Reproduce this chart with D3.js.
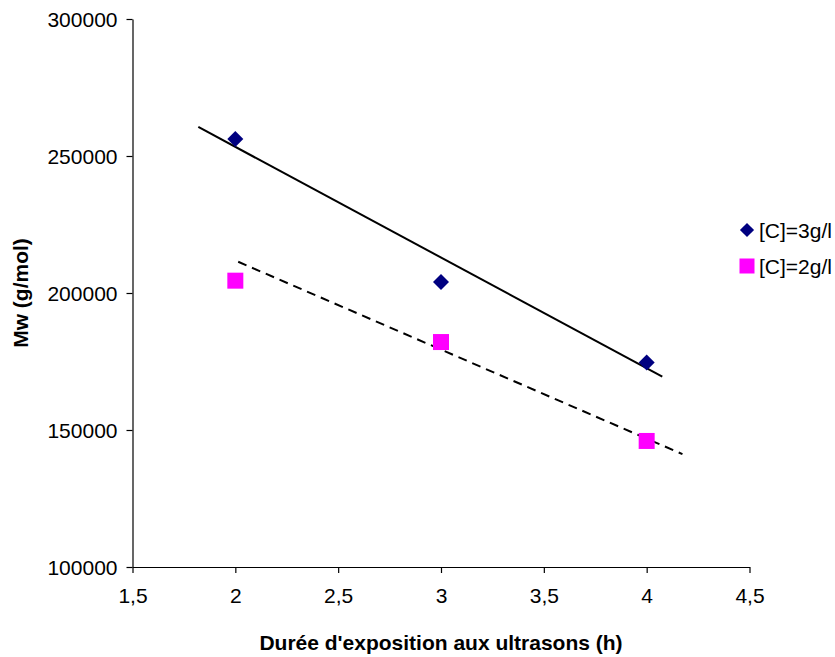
<!DOCTYPE html>
<html>
<head>
<meta charset="utf-8">
<script src="https://cdn.jsdelivr.net/npm/d3@7"></script>
<style>
  html, body { margin: 0; padding: 0; background: #fff; }
  svg { display: block; }
  text { font-family: "Liberation Sans", Arial, sans-serif; }
</style>
</head>
<body>
<svg id="chart" width="835" height="657"></svg>
<script>
// ---- data ----
const durations = [2, 3, 4];
const mw3 = [256200, 204000, 174600];
const mw2 = [204500, 182100, 146000];
const seriesNames = ["[C]=3g/l", "[C]=2g/l"];
const xTicks = [1.5, 2, 2.5, 3, 3.5, 4, 4.5];
const yTicks = [100000, 150000, 200000, 250000, 300000];
// trendline end points [x, y]
const trend3 = [[1.82, 260600], [4.076, 169500]];
const trend2 = [[2.014, 211400], [4.174, 141200]];

const svg = d3.select("#chart");
const x = d3.scaleLinear().domain([1.5, 4.5]).range([132.5, 749.5]);
const y = d3.scaleLinear().domain([100000, 300000]).range([567, 19]);

const fmtX = d => String(d).replace(".", ",");

// axes
const gx = svg.append("g").attr("transform", "translate(0,567)")
  .call(d3.axisBottom(x).tickValues(xTicks).tickFormat(fmtX).tickSize(6).tickSizeOuter(0).tickPadding(15));
const gy = svg.append("g").attr("transform", "translate(132.5,0)")
  .call(d3.axisLeft(y).tickValues(yTicks).tickFormat(d3.format("d")).tickSize(6).tickSizeOuter(0).tickPadding(9));
[gx, gy].forEach(g => {
  g.select(".domain").attr("stroke", "#000").attr("stroke-width", 1.2);
  g.selectAll(".tick line").attr("stroke", "#000").attr("stroke-width", 1.2);
  g.selectAll(".tick text").attr("fill", "#000").style("font-size", "21px")
    .style("font-family", "'Liberation Sans', Arial, sans-serif");
});
gy.selectAll(".tick text").attr("dy", "0.36em");

// trendlines
const line = d3.line().x(d => x(d[0])).y(d => y(d[1]));
svg.append("path").datum(trend3).attr("d", line)
  .attr("fill", "none").attr("stroke", "#000").attr("stroke-width", 2);
svg.append("path").datum(trend2).attr("d", line)
  .attr("fill", "none").attr("stroke", "#000").attr("stroke-width", 2)
  .attr("stroke-dasharray", "9,6");

// markers
const diamond = d3.symbol().type(d3.symbolSquare).size(128);
const square = d3.symbol().type(d3.symbolSquare).size(256);
svg.append("g").selectAll("path").data(durations.map((d, i) => [d, mw3[i]]))
  .join("path").attr("d", diamond)
  .attr("transform", d => `translate(${x(d[0])},${y(d[1])}) rotate(45)`)
  .attr("fill", "#000080");
svg.append("g").selectAll("path").data(durations.map((d, i) => [d, mw2[i]]))
  .join("path").attr("d", square)
  .attr("transform", d => `translate(${x(d[0])},${y(d[1])})`)
  .attr("fill", "#FF00FF");

// axis titles
svg.append("text").attr("x", 441).attr("y", 650).attr("text-anchor", "middle")
  .style("font-size", "21px").style("font-weight", "bold").text("Durée d'exposition aux ultrasons (h)");
svg.append("text").attr("transform", "translate(28,293) rotate(-90)").attr("text-anchor", "middle")
  .style("font-size", "21px").style("font-weight", "bold").text("Mw (g/mol)");

// legend
const leg = svg.append("g");
leg.append("path").attr("d", d3.symbol().type(d3.symbolSquare).size(100))
  .attr("transform", "translate(747,230) rotate(45)").attr("fill", "#000080");
leg.append("text").attr("x", 759).attr("y", 237.5).style("font-size", "21px").text(seriesNames[0]);
leg.append("rect").attr("x", 739.5).attr("y", 258.5).attr("width", 15).attr("height", 15).attr("fill", "#FF00FF");
leg.append("text").attr("x", 759).attr("y", 273.5).style("font-size", "21px").text(seriesNames[1]);
</script>
</body>
</html>
